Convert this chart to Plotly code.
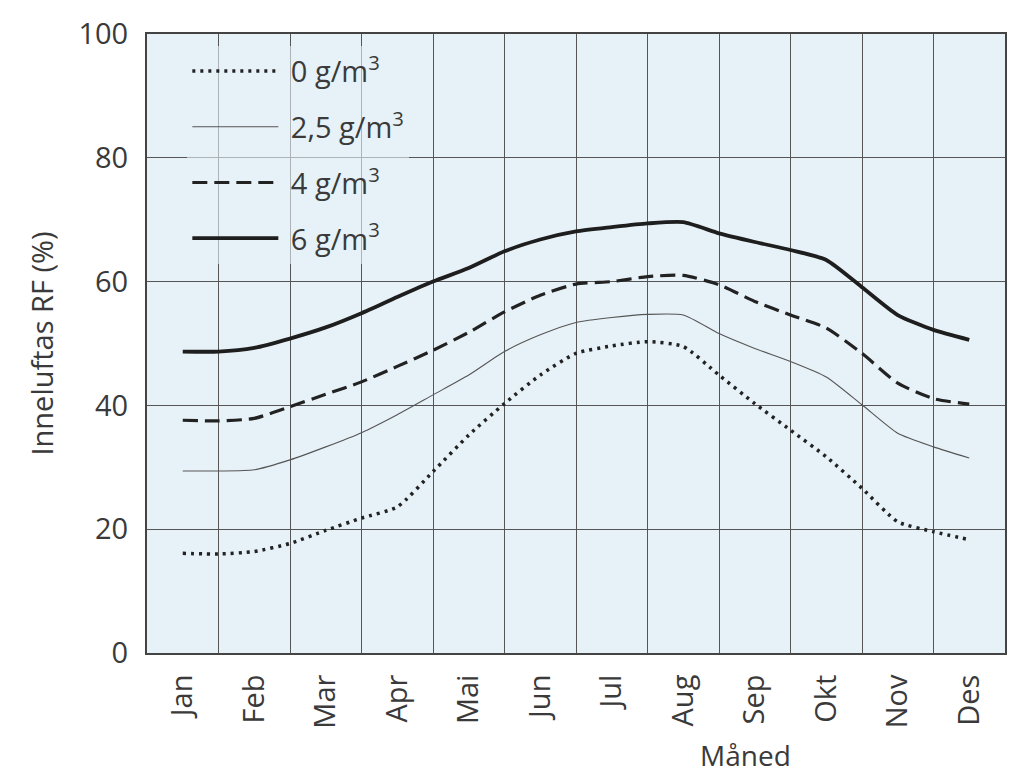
import plotly.graph_objects as go

months = ["Jan", "Feb", "Mar", "Apr", "Mai", "Jun", "Jul", "Aug", "Sep", "Okt", "Nov", "Des"]
# positions in month units (0 = Jan centre), half-month resolution
x_pos = [0, 0.5, 1, 1.5, 2, 2.5, 3, 3.5, 4, 4.5, 5, 5.5, 6, 6.5, 7, 7.5, 8, 8.5, 9, 9.5, 10, 10.5, 11]

rf_0 = [16.1, 16.0, 16.4, 17.7, 19.8, 21.8, 23.6, 29.3, 35.2, 40.3, 44.9, 48.4,
        49.6, 50.3, 49.5, 44.9, 40.3, 36.0, 31.7, 26.6, 21.2, 19.6, 18.3]
rf_25 = [29.4, 29.4, 29.6, 31.2, 33.3, 35.6, 38.5, 41.7, 44.9, 48.7, 51.4, 53.4,
         54.2, 54.7, 54.6, 51.6, 49.2, 47.1, 44.6, 40.1, 35.5, 33.3, 31.5]
rf_4 = [37.6, 37.5, 37.9, 39.8, 41.8, 43.8, 46.3, 48.9, 51.8, 55.1, 57.8, 59.6,
        60.0, 60.8, 61.0, 59.5, 56.8, 54.6, 52.5, 48.4, 43.6, 41.1, 40.2]
rf_6 = [48.7, 48.7, 49.3, 50.8, 52.6, 54.9, 57.5, 60.0, 62.2, 64.9, 66.8, 68.1,
        68.8, 69.4, 69.6, 67.8, 66.4, 65.1, 63.5, 59.1, 54.6, 52.2, 50.6]

series_names = ["\u00a00 g/m<sup>3</sup>", "\u00a02,5 g/m<sup>3</sup>",
                "\u00a04 g/m<sup>3</sup>", "\u00a06 g/m<sup>3</sup>"]

FONT = "Open Sans"
TXT = "#3a3a3a"

fig = go.Figure()
styles = [
    dict(color="#222222", width=3.5, dash="3px,5px"),
    dict(color="#555555", width=1.1),
    dict(color="#222222", width=3.2, dash="15px,7px"),
    dict(color="#1e1e1e", width=3.8),
]
for i, (name, ys, st) in enumerate(zip(series_names, [rf_0, rf_25, rf_4, rf_6], styles)):
    fig.add_trace(go.Scatter(
        x=x_pos, y=ys, mode="lines", name=name,
        line=dict(shape="spline", smoothing=0.6, **st),
        legendgroup=str(i),
    ))

fig.update_layout(
    width=1016, height=775,
    margin=dict(l=139, r=19, t=26, b=130),
    paper_bgcolor="white",
    plot_bgcolor="rgb(231,242,248)",
    font=dict(family=FONT, size=26, color=TXT),
    showlegend=True,
    legend=dict(
        x=0.047, y=0.981, xanchor="left", yanchor="top",
        bgcolor="rgba(231,242,248,0.6)",
        font=dict(family=FONT, size=29, color=TXT),
        tracegroupgap=15,
        itemwidth=86,
    ),
    annotations=[dict(
        text="Måned", xref="paper", yref="paper", x=0.697, y=-0.165,
        xanchor="center", yanchor="middle", showarrow=False,
        font=dict(family=FONT, size=28, color=TXT),
    )],
)
fig.update_xaxes(
    range=[-0.5, 11.5],
    tickmode="array", tickvals=list(range(12)), ticktext=months,
    tickangle=-90,
    showgrid=False,
    ticks="",
    ticklabelstandoff=8,
    minor=dict(tickmode="array", tickvals=[k + 0.5 for k in range(11)],
               showgrid=True, gridcolor="#555555", gridwidth=1, ticks=""),
    showline=True, mirror=True, linecolor="#444444", linewidth=2,
    zeroline=False,
    automargin=False,
    tickfont=dict(family=FONT, size=29, color=TXT),
)
fig.update_yaxes(
    range=[0, 100], tickmode="linear", tick0=0, dtick=20,
    showgrid=True, gridcolor="#555555", gridwidth=1,
    ticks="",
    ticklabelstandoff=11,
    showline=True, mirror=True, linecolor="#444444", linewidth=2,
    zeroline=False,
    automargin=False,
    title=dict(text="Inneluftas RF (%)", font=dict(family=FONT, size=29, color=TXT), standoff=16),
    tickfont=dict(family=FONT, size=29, color=TXT),
)

fig.write_html("out.html")
